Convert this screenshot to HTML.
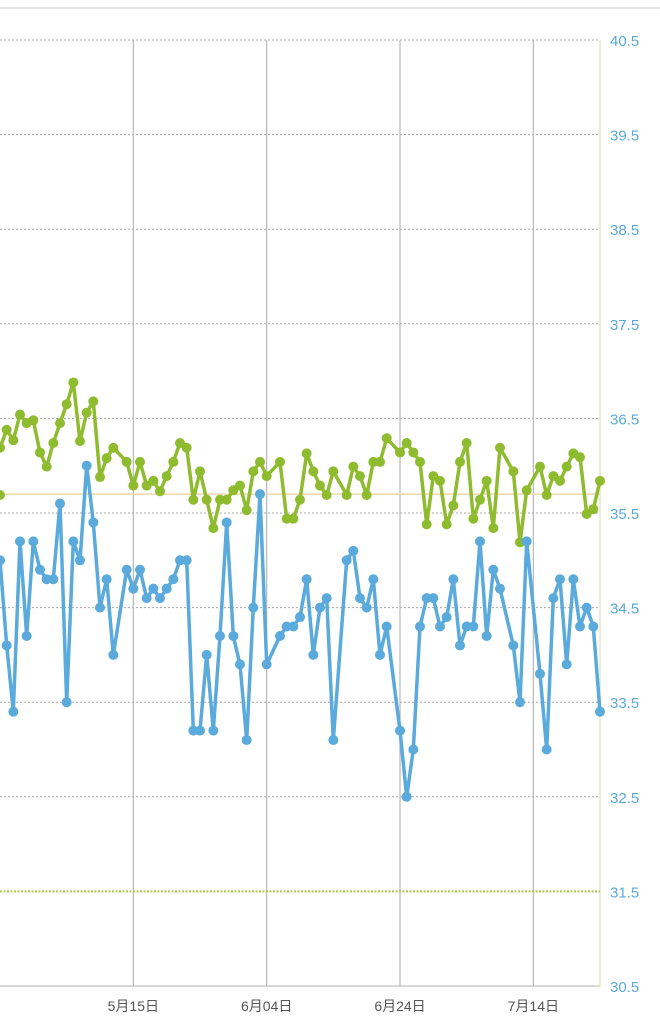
<!DOCTYPE html>
<html><head><meta charset="utf-8"><style>
html,body{margin:0;padding:0;background:#fff;width:660px;height:1024px;overflow:hidden}
svg{display:block}
</style></head><body>
<svg id="chart" width="660" height="1024" xmlns="http://www.w3.org/2000/svg"></svg>
<script>
const days=[0,1,2,3,4,5,6,7,8,9,10,11,12,13,14,15,16,17,19,20,21,22,23,24,25,26,27,28,29,30,31,32,33,34,35,36,37,38,39,40,42,43,44,45,46,47,48,49,50,52,53,54,55,56,57,58,60,61,62,63,64,65,66,67,68,69,70,71,72,73,74,75,77,78,79,81,82,83,84,85,86,87,88,89,90];
const blueValues=[35.0,34.1,33.4,35.2,34.2,35.2,34.9,34.8,34.8,35.6,33.5,35.2,35.0,36.0,35.4,34.5,34.8,34.0,34.9,34.7,34.9,34.6,34.7,34.6,34.7,34.8,35.0,35.0,33.2,33.2,34.0,33.2,34.2,35.4,34.2,33.9,33.1,34.5,35.7,33.9,34.2,34.3,34.3,34.4,34.8,34.0,34.5,34.6,33.1,35.0,35.1,34.6,34.5,34.8,34.0,34.3,33.2,32.5,33.0,34.3,34.6,34.6,34.3,34.4,34.8,34.1,34.3,34.3,35.2,34.2,34.9,34.7,34.1,33.5,35.2,33.8,33.0,34.6,34.8,33.9,34.8,34.3,34.5,34.3,33.4];
const greenValues=[36.19,36.38,36.27,36.54,36.45,36.48,36.14,35.99,36.24,36.45,36.65,36.88,36.26,36.56,36.68,35.88,36.08,36.19,36.04,35.79,36.04,35.79,35.84,35.73,35.89,36.04,36.24,36.19,35.64,35.94,35.64,35.34,35.64,35.64,35.74,35.79,35.53,35.94,36.04,35.89,36.04,35.44,35.44,35.64,36.13,35.94,35.79,35.69,35.94,35.69,35.99,35.89,35.69,36.04,36.04,36.29,36.14,36.24,36.14,36.04,35.38,35.89,35.84,35.38,35.58,36.04,36.24,35.44,35.64,35.84,35.34,36.19,35.94,35.19,35.74,35.99,35.69,35.89,35.84,35.99,36.13,36.09,35.49,35.54,35.84,35.69];
const yTicks=[40.5,39.5,38.5,37.5,36.5,35.5,34.5,33.5,32.5,31.5,30.5];
const xTickDays=[20,40,60,80];
const xTickLabels=["5月15日","6月04日","6月24日","7月14日"];
const refLine=35.7;
const lowLine=31.5;

const NS="http://www.w3.org/2000/svg";
const svg=document.getElementById('chart');
const X=d=>d*(600/90);
const Y=v=>40+(40.5-v)*94.6;
function mk(tag,attrs,parent){const e=document.createElementNS(NS,tag);for(const k in attrs)e.setAttribute(k,attrs[k]);(parent||svg).appendChild(e);return e;}

let e=mk('line',{x1:0,x2:660,y1:8,y2:8,stroke:'#c8c8c8','stroke-width':1});



yTicks.forEach((t,i)=>{
  if(t!==lowLine && t!==30.5){
    const g=mk('line',{x1:0,x2:600,y1:Y(t),y2:Y(t),stroke:'#a8a8a8','stroke-width':1,'stroke-dasharray':'2,2'});
    
    
  }
  const tx=mk('text',{x:610,y:Y(t)+6,'font-family':'Liberation Sans, sans-serif','font-size':15,fill:'#5aaadb'});
  tx.textContent=t.toFixed(1);
  
  
});
e=mk('line',{x1:0,x2:600,y1:Y(30.5),y2:Y(30.5),stroke:'#b0b0b0','stroke-width':1});



xTickDays.forEach((d,i)=>{
  const l=mk('line',{x1:X(d),x2:X(d),y1:40,y2:Y(30.5),stroke:'#b8b8b8','stroke-width':1.2});
  
  
  const t=mk('text',{x:X(d),y:1011,'text-anchor':'middle','font-family':'Liberation Sans, Noto Sans CJK JP, sans-serif','font-size':14,fill:'#555'});
  t.textContent=xTickLabels[i];
  
  
});

e=mk('line',{x1:600,x2:600,y1:40,y2:Y(30.5),stroke:'#e3ecc8','stroke-width':1.5});



e=mk('line',{x1:0,x2:600,y1:Y(lowLine),y2:Y(lowLine),stroke:'#a8c850','stroke-width':2,'stroke-dasharray':'2,1.5'});



e=mk('line',{x1:0,x2:600,y1:Y(refLine),y2:Y(refLine),stroke:'#efd6b0','stroke-width':1.5});



function series(vals,color,name){
  const pts=vals.map((v,i)=>X(days[i]).toFixed(1)+','+Y(v).toFixed(1)).join(' ');
  const p=mk('polyline',{points:pts,fill:'none',stroke:color,'stroke-width':3.5,'stroke-linejoin':'round'});
  
  
  vals.forEach((v,i)=>{
    const c=mk('circle',{cx:X(days[i]),cy:Y(v),r:5,fill:color});
    
    
  });
}
series(greenValues,'#8fbc2f','green-series');
series(blueValues,'#5aaadb','blue-series');
</script>
</body></html>
